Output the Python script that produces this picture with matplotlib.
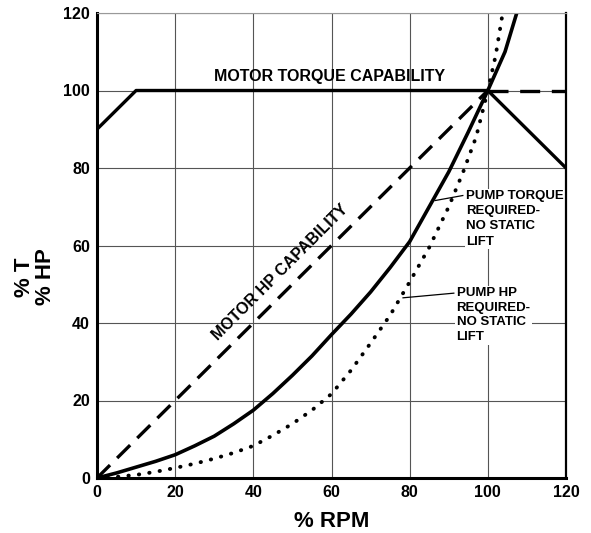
import matplotlib
matplotlib.use("Agg")
import matplotlib.pyplot as plt

# Data
rpm_torque = [0, 5, 10, 15, 20, 25, 30, 35, 40, 45, 50, 55, 60, 65, 70, 75, 80, 85, 90, 95, 100, 104.4, 107.4]
pump_torque = [0, 1.3, 2.8, 4.3, 6, 8.3, 10.8, 14, 17.5, 21.8, 26.5, 31.5, 37, 42.3, 48, 54.3, 61, 70, 79, 89.3, 100, 110, 120]
rpm_hp = [0, 5, 10, 15, 20, 25, 30, 35, 40, 45, 50, 55, 60, 65, 70, 75, 80, 85, 90, 93.7, 97, 100, 102, 103.8]
pump_hp = [0, 0.3, 0.8, 1.6, 2.6, 3.7, 5, 6.5, 8.3, 11, 14, 17.5, 21.7, 27.8, 34.8, 42, 50.6, 59.5, 70, 79, 88, 100, 109, 120]
motor_torque_x = [0, 10, 100, 120]
motor_torque_y = [90, 100, 100, 80]
motor_torque_ext_x = [100, 120]
motor_torque_ext_y = [100, 100]
motor_hp_x = [0, 100]
motor_hp_y = [0, 100]
xticks = [0, 20, 40, 60, 80, 100, 120]
yticks = [0, 20, 40, 60, 80, 100, 120]

plt.rcParams['font.family'] = ['Liberation Sans', 'DejaVu Sans']
plt.rcParams['font.weight'] = 'bold'

fig = plt.figure(figsize=(5.91, 5.33), dpi=100)
ax = fig.add_axes([97/591, 1-478/533, (566-97)/591, (478-13)/533])
ax.set_xlim(0, 120)
ax.set_ylim(0, 120)
ax.set_xticks(xticks)
ax.set_yticks(yticks)
ax.set_xticklabels([str(v) for v in xticks], fontsize=11.5, fontweight='bold')
ax.set_yticklabels([str(v) for v in yticks], fontsize=11.5, fontweight='bold')
ax.tick_params(length=0, pad=5)
ax.grid(True, color='#555555', linewidth=0.8)
ax.set_axisbelow(True)
for s in ['left', 'bottom']:
    ax.spines[s].set_linewidth(2.2)
ax.spines['right'].set_linewidth(1.6)
ax.spines['top'].set_linewidth(0.8)
ax.spines['top'].set_color('#999999')
for s in ax.spines.values():
    s.set_zorder(6)

lw = 2.4
ax.plot(motor_torque_x, motor_torque_y, color='black', lw=lw, zorder=3)
ax.plot(motor_torque_ext_x, motor_torque_ext_y, color='black', lw=lw,
        dashes=(6, 3.5), zorder=3)
ax.plot(motor_hp_x, motor_hp_y, color='black', lw=lw, dashes=(5.5, 3), zorder=3)
ax.plot(rpm_torque, pump_torque, color='black', lw=2.6, zorder=3,
        solid_joinstyle='round')
ax.plot(rpm_hp, pump_hp, color='black', lw=2.8, linestyle=(0, (0.1, 2.6)),
        dash_capstyle='round', zorder=3)

ax.text(59.5, 103.5, 'MOTOR TORQUE CAPABILITY', ha='center', va='center',
        fontsize=11.5, fontweight='bold')
ax.text(47.0, 53.0, 'MOTOR HP CAPABILITY', ha='center', va='center',
        fontsize=11.5, fontweight='bold', rotation=45, rotation_mode='anchor')

bbox = dict(facecolor='white', edgecolor='none', pad=1)
ax.text(94.5, 74.3, 'PUMP TORQUE\nREQUIRED-\nNO STATIC\nLIFT', ha='left', va='top',
        fontsize=9.5, fontweight='bold', linespacing=1.35, bbox=bbox, zorder=4)
ax.text(92.0, 49.3, 'PUMP HP\nREQUIRED-\nNO STATIC\nLIFT', ha='left', va='top',
        fontsize=9.5, fontweight='bold', linespacing=1.3, bbox=bbox, zorder=4)
ax.plot([86.5, 93.6], [71.6, 72.9], color='black', lw=0.9, zorder=4)
ax.plot([78.3, 91.3], [46.5, 47.7], color='black', lw=0.9, zorder=4)

ax.set_xlabel('% RPM', fontsize=16, fontweight='bold', labelpad=8)
fig.text(35/591, 1-277/533, '% T\n% HP', rotation=90, ha='center', va='center',
         fontsize=16, fontweight='bold', linespacing=1.0)

fig.savefig('out.png', dpi=100)
